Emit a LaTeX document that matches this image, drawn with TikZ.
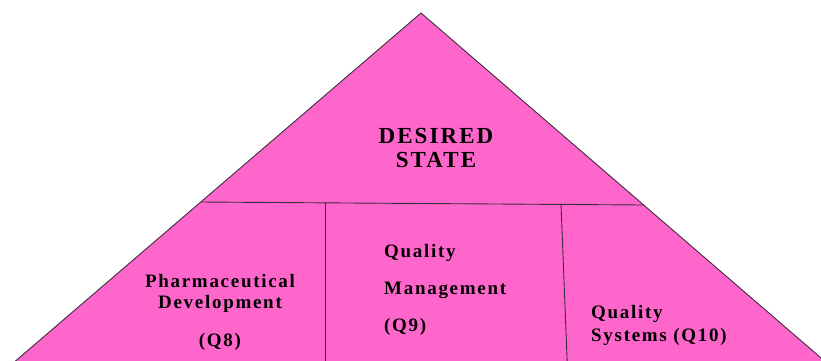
\documentclass[tikz,border=0pt]{standalone}
\usepackage{fontspec}
\setmainfont{Liberation Serif}
\definecolor{pyrpink}{RGB}{255,102,204}
\definecolor{pyrline}{RGB}{60,45,60}

\begin{document}
\begin{tikzpicture}[x=1pt, y=-1pt,
		edge/.style={draw=pyrline, line width=0.9pt},
		lbl/.style args={#1/#2}{inner sep=0pt, text=black,
			font=\fontsize{#1}{#2}\selectfont\bfseries\addfontfeatures{LetterSpace=9}}]
			\useasboundingbox (0, 0) rectangle (821, 360);
			\clip (0, 0) rectangle (821, 360);

			\coordinate (apex) at (421, 13);
			\coordinate (bl) at (5, 370);
			\coordinate (br) at (835, 370);
			\coordinate (dl) at (201, 202);
			\coordinate (dr) at (644, 205);
			\coordinate (v1t) at (325, 202.7);
			\coordinate (v1b) at (325, 370);
			\coordinate (v2t) at (561, 204);
			\coordinate (v2b) at (567.5, 370);

			\fill[pyrpink] (apex) -- (bl) -- (br) -- cycle;
			\draw[edge] (bl) -- (apex) -- (br);
			\draw[edge] (dl) -- (dr);
			\draw[edge] (v1t) -- (v1b);
			\draw[edge] (v2t) -- (v2b);

			\node[lbl=23/24, align=center, anchor=north] (desired) at (436, 128) {DESIRED\\STATE};
			\node[lbl=19/21, align=center, anchor=north] (pharma) at (220, 274) {Pharmaceutical\\Development\\[17pt](Q8)};
			\node[lbl=19/37, align=left, anchor=north west] (qm) at (384, 244) {Quality\\Management\\(Q9)};
			\node[lbl=19/23, align=left, anchor=north west] (qs) at (591, 305) {Quality\\Systems (Q10)};
		\end{tikzpicture}
\end{document}
